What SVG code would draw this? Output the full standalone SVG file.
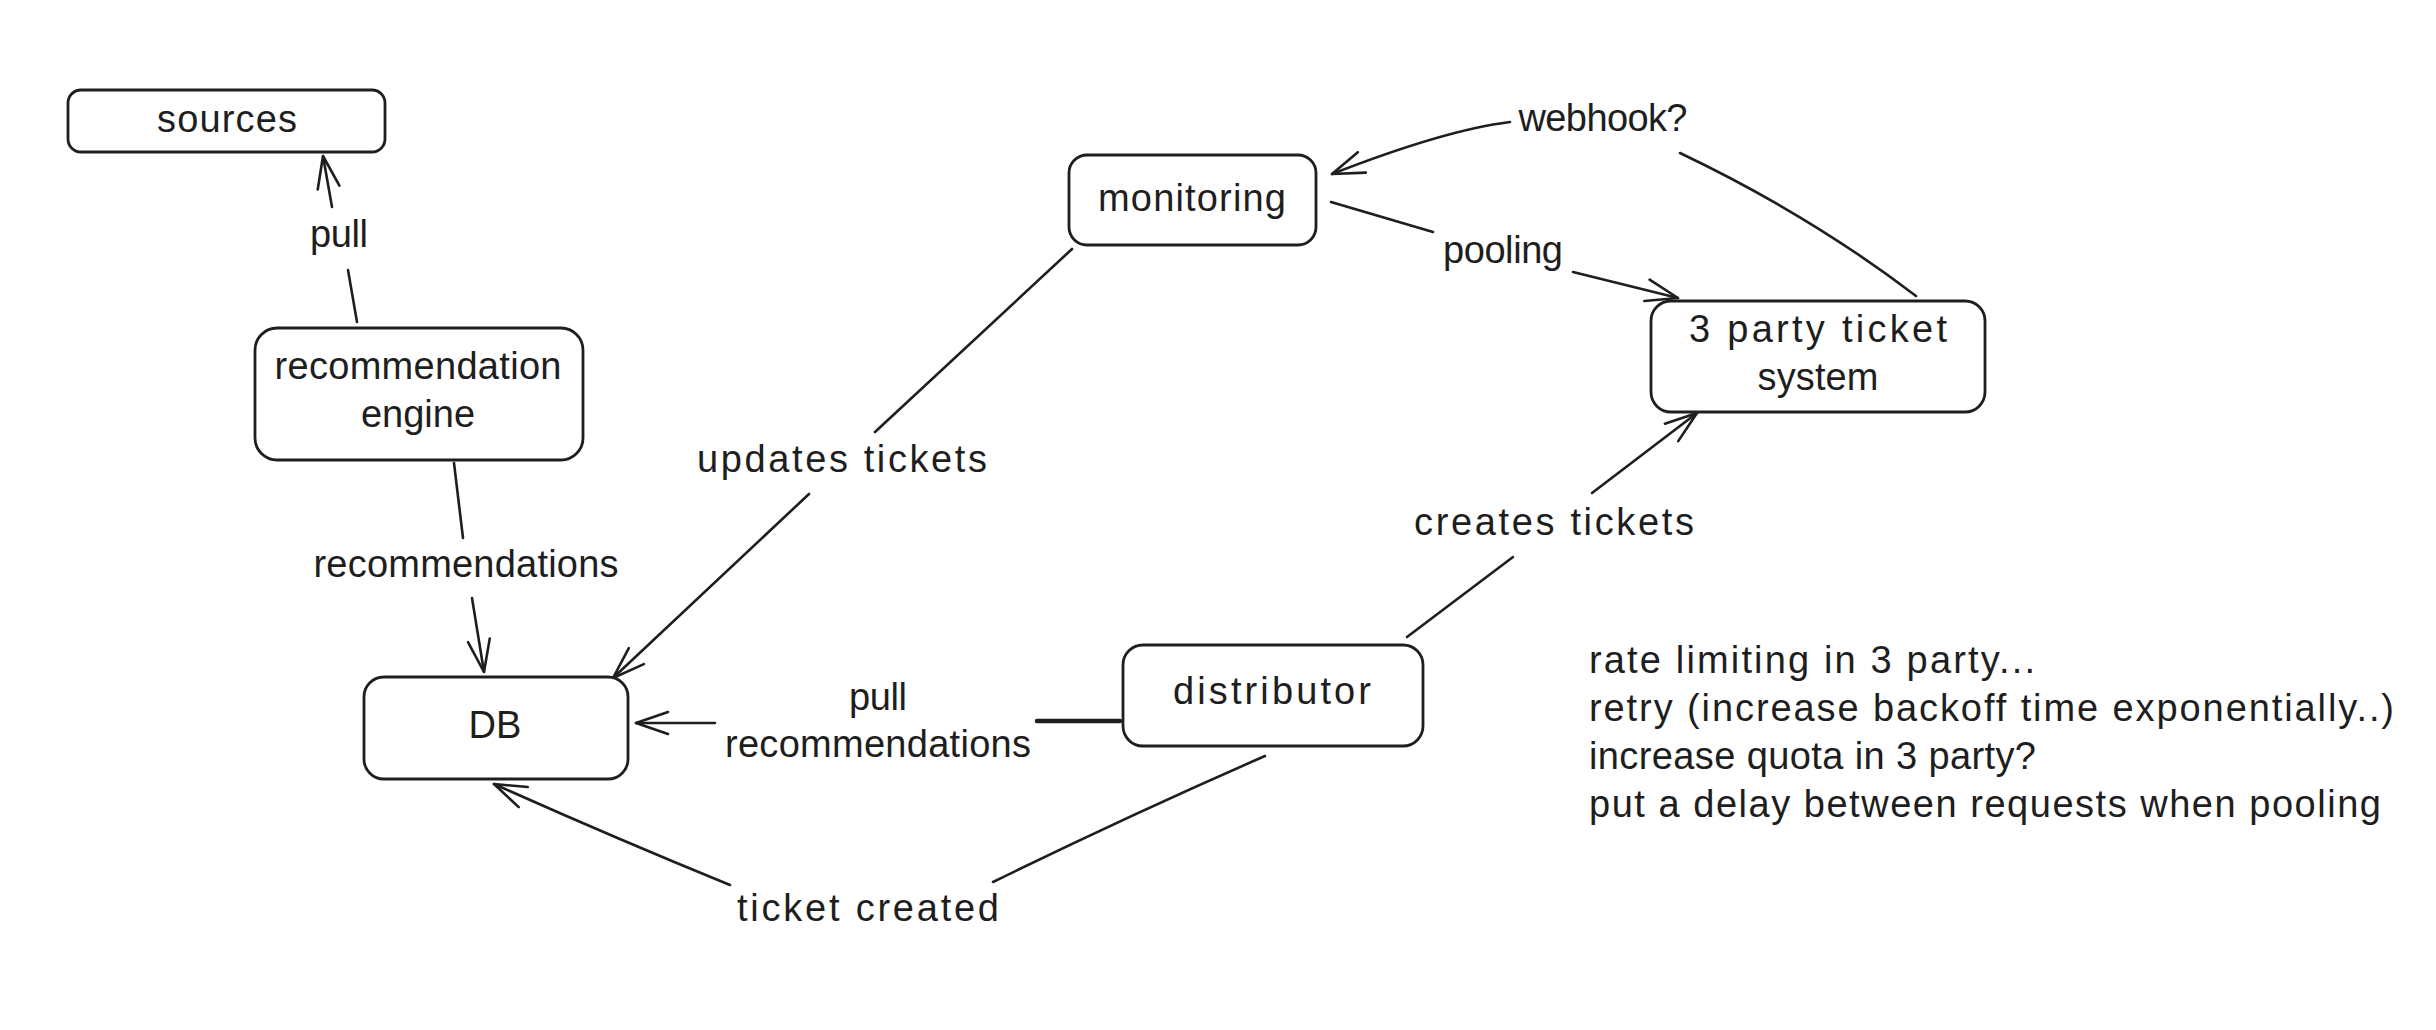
<svg xmlns="http://www.w3.org/2000/svg" width="2436" height="1030" viewBox="0 0 2436 1030">
  <style>
    .box { fill: #ffffff; stroke: #1e1e1e; stroke-width: 2.8; }
    .edge { fill: none; stroke: #1e1e1e; stroke-width: 2.6; stroke-linecap: round; }
    .thick { stroke-width: 4.5; }
    .t { font-family: "Liberation Sans", Arial, sans-serif; font-size: 38px; fill: #1e1e1e; text-anchor: middle; }
    .note { font-family: "Liberation Sans", Arial, sans-serif; font-size: 38px; fill: #1e1e1e; text-anchor: start; }
  </style>
  <defs>
    <marker id="arrow" markerUnits="userSpaceOnUse" markerWidth="80" markerHeight="80" refX="0" refY="0" viewBox="-40 -40 80 80" orient="auto" overflow="visible">
      <path d="M -32 -11 L 0 0 L -32 11" fill="none" stroke="#1e1e1e" stroke-width="2.6" stroke-linecap="round" stroke-linejoin="round"/>
    </marker>
  </defs>
  <rect width="2436" height="1030" fill="#ffffff"/>

  <g id="connectors">
    <g id="edge-pull-sources">
      <path class="edge" d="M357,322 L348,270"/>
      <path class="edge" d="M332,207 L323,156" marker-end="url(#arrow)"/>
      <text class="t" x="339" y="247" textLength="58" lengthAdjust="spacing">pull</text>
    </g>
    <g id="edge-recommendations">
      <path class="edge" d="M454,463 L463,538"/>
      <path class="edge" d="M472,598 L484,672" marker-end="url(#arrow)"/>
      <text class="t" x="466" y="577" textLength="305" lengthAdjust="spacing">recommendations</text>
    </g>
    <g id="edge-updates-tickets">
      <path class="edge" d="M1072,249 L875,432"/>
      <path class="edge" d="M809,494 L613,678" marker-end="url(#arrow)"/>
      <text class="t" x="842" y="472" textLength="290" lengthAdjust="spacing">updates tickets</text>
    </g>
    <g id="edge-webhook">
      <path class="edge" d="M1510,122 Q1445,130 1332,174" marker-end="url(#arrow)"/>
      <path class="edge" d="M1680,153 Q1810,215 1916,296"/>
      <text class="t" x="1603" y="131" textLength="169" lengthAdjust="spacing">webhook?</text>
    </g>
    <g id="edge-pooling">
      <path class="edge" d="M1331,202 L1433,232"/>
      <path class="edge" d="M1573,272 L1678,298" marker-end="url(#arrow)"/>
      <text class="t" x="1503" y="263" textLength="120" lengthAdjust="spacing">pooling</text>
    </g>
    <g id="edge-creates-tickets">
      <path class="edge" d="M1407,637 L1513,557"/>
      <path class="edge" d="M1592,493 L1697,413" marker-end="url(#arrow)"/>
      <text class="t" x="1554" y="535" textLength="280" lengthAdjust="spacing">creates tickets</text>
    </g>
    <g id="edge-pull-recommendations">
      <path class="edge thick" d="M1120,721 L1037,721"/>
      <path class="edge" d="M715,723 L636,723" marker-end="url(#arrow)"/>
      <text class="t" x="878" y="710" textLength="58" lengthAdjust="spacing">pull</text>
      <text class="t" x="878" y="757" textLength="306" lengthAdjust="spacing">recommendations</text>
    </g>
    <g id="edge-ticket-created">
      <path class="edge" d="M1265,756 Q1130,815 993,882"/>
      <path class="edge" d="M730,885 Q610,836 494,784" marker-end="url(#arrow)"/>
      <text class="t" x="868" y="921" textLength="262" lengthAdjust="spacing">ticket created</text>
    </g>
  </g>

  <g id="node-sources">
    <rect class="box" x="68" y="90" width="317" height="62" rx="13"/>
    <text class="t" x="227" y="132" textLength="140" lengthAdjust="spacing">sources</text>
  </g>
  <g id="node-recommendation-engine">
    <rect class="box" x="255" y="328" width="328" height="132" rx="22"/>
    <text class="t" x="418" y="379" textLength="287" lengthAdjust="spacing">recommendation</text>
    <text class="t" x="418" y="427">engine</text>
  </g>
  <g id="node-db">
    <rect class="box" x="364" y="677" width="264" height="102" rx="20"/>
    <text class="t" x="495" y="738">DB</text>
  </g>
  <g id="node-monitoring">
    <rect class="box" x="1069" y="155" width="247" height="90" rx="18"/>
    <text class="t" x="1192" y="211" textLength="188" lengthAdjust="spacing">monitoring</text>
  </g>
  <g id="node-3-party-ticket-system">
    <rect class="box" x="1651" y="301" width="334" height="111" rx="20"/>
    <text class="t" x="1818" y="342" textLength="258" lengthAdjust="spacing">3 party ticket</text>
    <text class="t" x="1818" y="390" textLength="121" lengthAdjust="spacing">system</text>
  </g>
  <g id="node-distributor">
    <rect class="box" x="1123" y="645" width="300" height="101" rx="20"/>
    <text class="t" x="1272" y="704" textLength="198" lengthAdjust="spacing">distributor</text>
  </g>

  <g id="notes">
    <text class="note" x="1589" y="673" textLength="446" lengthAdjust="spacing">rate limiting in 3 party...</text>
    <text class="note" x="1589" y="721" textLength="805" lengthAdjust="spacing">retry (increase backoff time exponentially..)</text>
    <text class="note" x="1589" y="769" textLength="447" lengthAdjust="spacing">increase quota in 3 party?</text>
    <text class="note" x="1589" y="817" textLength="792" lengthAdjust="spacing">put a delay between requests when pooling</text>
  </g>
</svg>
